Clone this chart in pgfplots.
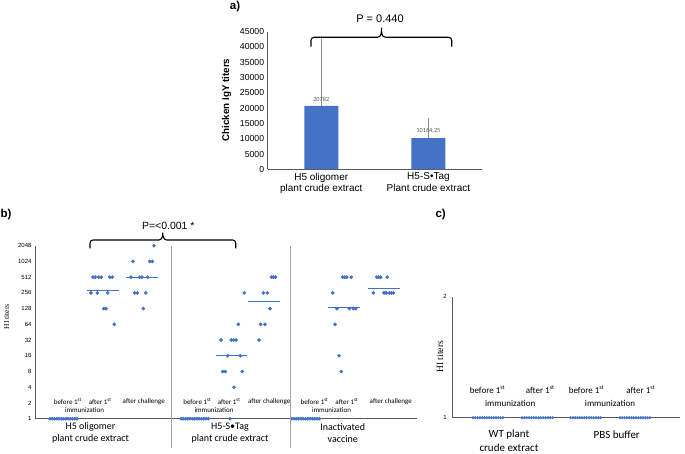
\documentclass[border=0pt]{standalone}
\usepackage{pgfplots}
\pgfplotsset{compat=1.18}
\usepackage{fontspec}
\setmainfont{Liberation Sans}
\newfontfamily\calibri{Carlito}
\newfontfamily\timesf{Liberation Serif}
\definecolor{xblue}{HTML}{4472C4}
\definecolor{axgray}{HTML}{595959}
\definecolor{sepgray}{HTML}{A6A6A6}
\definecolor{errgray}{HTML}{8C8C8C}

\begin{document}
\begin{tikzpicture}[x=1pt,y=1pt]
\path[use as bounding box] (0,0) rectangle (685,453);

% ---------------- panel a ----------------
\begin{axis}[
  at={(267.7pt,283.7pt)}, anchor=south west, scale only axis,
  width=214.3pt, height=137.6pt,
  xmin=-0.5, xmax=1.5, ymin=0, ymax=45000,
  axis lines*=left, axis line style={axgray, line width=0.6pt},
  major tick length=0pt,
  xtick={0,1},
  xticklabels={{H5 oligomer\\plant crude extract},{H5-S•Tag\\Plant crude extract}},
  xticklabel style={align=center, font=\fontsize{10}{11.6}\selectfont},
  ytick={0,5000,10000,15000,20000,25000,30000,35000,40000,45000},
  scaled y ticks=false,
  /pgf/number format/1000 sep={},
  /pgf/number format/assume math mode=true,
  yticklabel style={font=\fontsize{8.7}{10}\selectfont},
  clip=false,
]
\addplot[ybar, bar width=34pt, bar shift=0pt, fill=xblue, draw=none,
  error bars/.cd, y dir=plus, y explicit, error mark=-,
  error bar style={errgray, line width=0.5pt},
  error mark options={errgray, mark size=3.5pt, line width=0.5pt}]
  coordinates {(0,20782) +- (0,21718) (1,10164.25) +- (0,5436)};
\node[font=\calibri\fontsize{6.3}{7}\selectfont, text=black!65] at (axis cs:0,22991) {20782};
\node[font=\calibri\fontsize{6.3}{7}\selectfont, text=black!65] at (axis cs:1,12525) {10164,25};
\end{axis}
\node[font=\bfseries\fontsize{9.8}{11}\selectfont, rotate=90] at (226.7,353) {Chicken IgY titers};
\node[font=\bfseries\fontsize{11.5}{13}\selectfont] at (235,446.3) {a)};
\draw[line width=1.1pt] (311,406.3) -- (311,412.7) to[out=90,in=180] (314,415.7) -- (377.5,415.7)
  to[out=0,in=-90] (381.5,425.3) to[out=-90,in=180] (385.5,415.7) -- (448.7,415.7)
  to[out=0,in=90] (451.7,412.7) -- (451.7,406.3);
\node[font=\fontsize{11}{13}\selectfont] at (380,434) {P = 0.440};

% ---------------- panel b ----------------
\begin{axis}[
  at={(35pt,34.3pt)}, anchor=south west, scale only axis,
  width=382pt, height=173pt,
  xmin=35, xmax=417, ymode=log, log basis y=2, ymin=1, ymax=2048,
  axis lines*=left, axis line style={axgray, line width=0.6pt},
  major tick length=0pt,
  xtick=\empty,
  ytick={1,2,4,8,16,32,64,128,256,512,1024,2048},
  yticklabels={1,2,4,8,16,32,64,128,256,512,1024,2048},
  yticklabel style={font=\fontsize{6}{7}\selectfont},
  clip=false,
]
% group 1: H5 oligomer
\addplot[only marks, mark=*, mark size=1.65pt, color=xblue] coordinates {
 (50,1) (52.3,1) (54.5,1) (56.8,1) (59,1) (61.3,1) (63.5,1) (65.8,1) (68,1) (70.3,1) (72.5,1) (74.8,1) (77,1)};
\addplot[only marks, mark=*, mark size=1.65pt, color=xblue] coordinates {
 (93,512) (95.3,512) (98.7,512) (101.3,512) (109.7,512) (112.3,512)
 (91,256) (97.3,256) (107.7,256)
 (103.7,128) (106,128)
 (114.3,64)};
\addplot[xblue, line width=0.9pt] coordinates {(86.7,290) (118.7,290)};
\addplot[only marks, mark=*, mark size=1.65pt, color=xblue] coordinates {
 (154,2048)
 (133,1024) (149.7,1024) (152.3,1024)
 (131,512) (139.7,512) (142,512) (147.7,512)
 (134.7,256) (137.3,256) (145.7,256)
 (143.3,128)};
\addplot[xblue, line width=0.9pt] coordinates {(126,512) (157.7,512)};
% group 2: H5-S-Tag
\addplot[only marks, mark=*, mark size=1.65pt, color=xblue] coordinates {
 (181,1) (183.3,1) (185.6,1) (187.8,1) (190.1,1) (192.4,1) (194.7,1) (196.9,1) (199.2,1) (201.5,1) (203.8,1) (206,1) (208.3,1)};
\addplot[only marks, mark=*, mark size=1.65pt, color=xblue] coordinates {
 (244.3,256) (238.3,64)
 (221,32) (231.3,32) (233.5,32) (236,32)
 (227.7,16) (240.3,16)
 (222.7,8) (225.3,8) (242.2,8)
 (234,4) (230,1)};
\addplot[xblue, line width=0.9pt] coordinates {(216,16) (247.3,16)};
\addplot[only marks, mark=*, mark size=1.65pt, color=xblue] coordinates {
 (271.5,512) (273.5,512) (275.5,512)
 (263.3,256) (267.3,256)
 (270,128)
 (260.7,64) (265,64)
 (259,32)};
\addplot[xblue, line width=0.9pt] coordinates {(247.5,178) (280,178)};
% group 3: inactivated vaccine
\addplot[only marks, mark=*, mark size=1.65pt, color=xblue] coordinates {
 (291.7,1) (294,1) (296.3,1) (298.6,1) (300.9,1) (303.2,1) (305.5,1) (307.8,1) (310.1,1) (312.4,1) (314.7,1) (317,1) (319.3,1)};
\addplot[only marks, mark=*, mark size=1.65pt, color=xblue] coordinates {
 (342.7,512) (344.7,512) (346.7,512) (351.3,512)
 (332.7,256)
 (337,128) (349.3,128) (353.3,128) (355.7,128)
 (335,64) (339,16) (341.3,8)};
\addplot[xblue, line width=0.9pt] coordinates {(328.3,137) (360.3,137)};
\addplot[only marks, mark=*, mark size=1.65pt, color=xblue] coordinates {
 (376.7,512) (378.7,512) (380.7,512) (387.3,512)
 (373.3,256) (384,256) (386,256) (389.3,256) (391.3,256) (393.3,256)};
\addplot[xblue, line width=0.9pt] coordinates {(368,316) (400,316)};
\end{axis}
\draw[sepgray, line width=0.7pt] (171.7,207.3) -- (171.7,4.7);
\draw[sepgray, line width=0.7pt] (290.3,207.3) -- (290.3,4.7);
\node[font=\timesf\fontsize{7.6}{9}\selectfont, rotate=90] at (6.7,136.3) {HI titers};
\node[font=\bfseries\fontsize{11.5}{13}\selectfont] at (6,238) {b)};
\draw[line width=1.1pt] (90,204.7) -- (90,210) to[out=90,in=180] (93,213) -- (158.8,213)
  to[out=0,in=-90] (162.8,220.3) to[out=-90,in=180] (166.8,213) -- (232.7,213)
  to[out=0,in=90] (235.7,210) -- (235.7,204.7);
\node[font=\fontsize{10.5}{12}\selectfont] at (168.3,227.3) {P=<0.001 *};
\begin{scope}[every node/.style={font=\calibri\fontsize{7}{8}\selectfont, inner sep=0pt}]
\node at (67.8,51.3) {before 1\textsuperscript{st}};
\node at (84.5,43) {immunization};
\node at (100.2,51.3) {after 1\textsuperscript{st}};
\node at (143.8,51.3) {after challenge};
\node at (197.3,51.3) {before 1\textsuperscript{st}};
\node at (214,43) {immunization};
\node at (229.2,51.3) {after 1\textsuperscript{st}};
\node at (269.2,51.3) {after challenge};
\node at (314.5,51.3) {before 1\textsuperscript{st}};
\node at (331.5,43) {immunization};
\node at (346.8,51.3) {after 1\textsuperscript{st}};
\node at (390.8,51.3) {after challenge};
\end{scope}
\begin{scope}[every node/.style={font=\calibri\fontsize{10}{12.6}\selectfont, align=center}]
\node at (90.5,20) {H5 oligomer\\plant crude extract};
\node at (230,20) {H5-S•Tag\\plant crude extract};
\node at (342.7,20) {Inactivated\\vaccine};
\end{scope}

% ---------------- panel c ----------------
\begin{axis}[
  at={(452.3pt,35.3pt)}, anchor=south west, scale only axis,
  width=227.7pt, height=121pt,
  xmin=452.3, xmax=680, ymin=1, ymax=2,
  axis lines*=left, axis line style={axgray, line width=0.6pt},
  major tick length=0pt,
  xtick=\empty, ytick={1,2}, yticklabels={1,2},
  yticklabel style={font=\fontsize{6}{7}\selectfont, xshift=-2pt},
  clip=false,
]
\addplot[only marks, mark=*, mark size=1.3pt, color=xblue] coordinates {
 (473.0,1) (475.3,1) (477.6,1) (479.9,1) (482.2,1) (484.5,1) (486.8,1) (489.1,1) (491.4,1) (493.7,1) (496.0,1) (498.3,1) (500.6,1) (502.9,1)};
\addplot[only marks, mark=*, mark size=1.3pt, color=xblue] coordinates {
 (522.0,1) (524.4,1) (526.7,1) (529.1,1) (531.4,1) (533.8,1) (536.1,1) (538.5,1) (540.8,1) (543.2,1) (545.5,1) (547.9,1) (550.2,1) (552.6,1)};
\addplot[only marks, mark=*, mark size=1.3pt, color=xblue] coordinates {
 (570.6,1) (572.9,1) (575.2,1) (577.5,1) (579.8,1) (582.1,1) (584.4,1) (586.7,1) (589.0,1) (591.3,1) (593.6,1) (595.9,1) (598.2,1) (600.5,1)};
\addplot[only marks, mark=*, mark size=1.3pt, color=xblue] coordinates {
 (620.0,1) (622.3,1) (624.6,1) (626.9,1) (629.2,1) (631.5,1) (633.8,1) (636.1,1) (638.4,1) (640.7,1) (643.0,1) (645.3,1) (647.6,1) (649.9,1)};
\end{axis}
\node[font=\timesf\fontsize{9.5}{11}\selectfont, rotate=90] at (440,96.3) {HI titers};
\node[font=\bfseries\fontsize{11.5}{13}\selectfont] at (440.7,238) {c)};
\begin{scope}[every node/.style={font=\calibri\fontsize{9}{10}\selectfont, inner sep=0pt}]
\node at (487.5,63) {before 1\textsuperscript{st}};
\node at (510.2,49.7) {immunization};
\node at (540.2,63) {after 1\textsuperscript{st}};
\node at (586.5,63) {before 1\textsuperscript{st}};
\node at (610,49.7) {immunization};
\node at (640.8,63) {after 1\textsuperscript{st}};
\end{scope}
\begin{scope}[every node/.style={font=\calibri\fontsize{11}{13.6}\selectfont, align=center, inner sep=1pt}]
\node at (509,12.5) {WT plant\\crude extract};
\node at (616.7,18) {PBS buffer};
\end{scope}
\end{tikzpicture}
\end{document}
